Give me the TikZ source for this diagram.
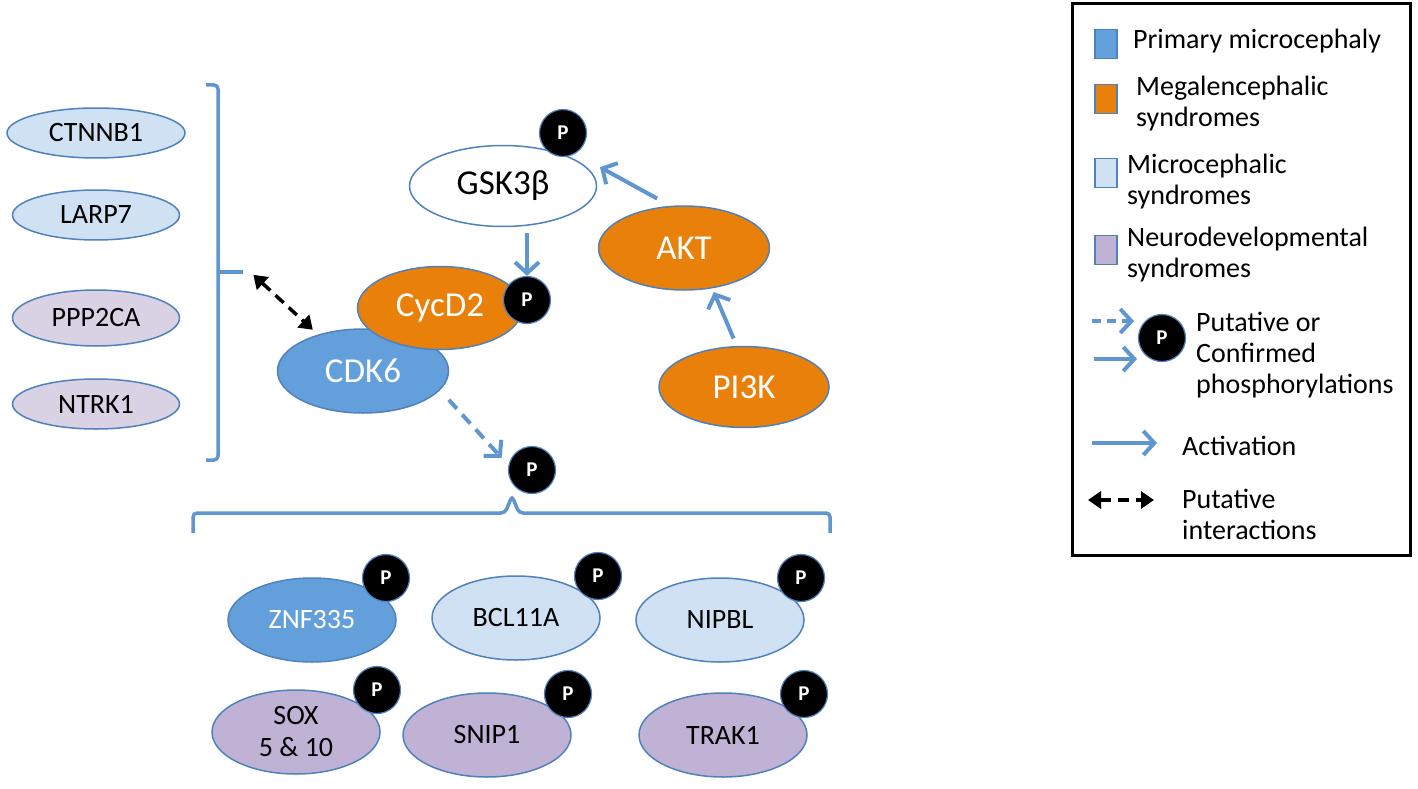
\documentclass[tikz,border=0pt]{standalone}
\usepackage{fontspec}
\setmainfont{Carlito}
\usetikzlibrary{arrows.meta,shapes.geometric}
\definecolor{edgeblue}{RGB}{79,129,189}
\definecolor{arrblue}{RGB}{95,150,208}
\definecolor{primblue}{RGB}{99,160,219}
\definecolor{megaorange}{RGB}{232,128,10}
\definecolor{microblue}{RGB}{207,225,243}
\definecolor{neuropurple}{RGB}{192,178,212}
\definecolor{neurolight}{RGB}{217,209,228}
\tikzset{
  prot/.style={ellipse,draw=edgeblue,line width=1.5pt,inner sep=0pt,minimum width=168pt,minimum height=84pt,font=\fontsize{28}{32}\selectfont},
  bigprot/.style={prot,font=\fontsize{35}{40}\selectfont},
  phos/.style={circle,fill=black,draw=edgeblue,line width=1.2pt,minimum size=47pt,inner sep=0pt,text=white,font=\fontsize{21}{21}\selectfont\bfseries},
  act/.style={draw=arrblue,line width=4pt,-{Straight Barb[length=11pt,width=24pt]}},
  dashact/.style={act,dash pattern=on 12pt off 8pt},
  interact/.style={line width=3.5pt,dash pattern=on 11pt off 7pt,{Triangle[length=13pt,width=17pt]}-{Triangle[length=13pt,width=17pt]}},
  bracket/.style={draw=arrblue,line width=3.5pt},
  legsq/.style={draw=edgeblue,line width=1.5pt,minimum width=22pt,minimum height=29pt,inner sep=0pt},
  legtext/.style={anchor=west,inner sep=0pt,align=left,font=\fontsize{28}{31}\selectfont}
}
\begin{document}
\begin{tikzpicture}[x=1pt,y=-1pt]
\useasboundingbox (0,0) rectangle (1418,789);

\node[prot,fill=microblue,minimum width=178pt,minimum height=50pt] (ctnnb) at (96,133) {CTNNB1};
\node[prot,fill=microblue,minimum width=167pt,minimum height=50pt] (larp) at (96,215) {LARP7};
\node[prot,fill=neurolight,minimum width=167pt,minimum height=56pt] (ppp) at (96,318) {PPP2CA};
\node[prot,fill=neurolight,minimum width=167pt,minimum height=50pt] (ntrk) at (96,404) {NTRK1};
\draw[bracket,rounded corners=4pt] (206,85) -- (218,85) -- (218,272) -- (218,460) -- (206,460);
\draw[bracket] (218,272) -- (243,272);
\coordinate (brk) at (246,268);

\node[bigprot,fill=white,minimum width=187pt,minimum height=81pt] (gsk) at (503,186) {GSK3β};
\node[phos] (pgsk) at (563,133) {P};
\node[bigprot,fill=primblue,text=white,minimum width=171pt] (cdk) at (363,371) {CDK6};
\node[bigprot,fill=megaorange,text=white,minimum width=165pt,minimum height=83pt] (cycd) at (440,308) {CycD2};
\node[phos] (pcyc) at (527,300) {P};
\node[bigprot,fill=megaorange,text=white,minimum width=171pt] (akt) at (684,248) {AKT};
\node[bigprot,fill=megaorange,text=white,minimum width=170pt,minimum height=81pt] (pik) at (744,387) {PI3K};
\node[phos] (pcdk) at (532,470) {P};

\draw[act,shorten <=6pt] (gsk.south -| pcyc) -- (pcyc);
\draw[act,shorten <=15pt,shorten >=28pt] (akt.108) -- (pgsk.-59);
\draw[act,shorten <=8pt,shorten >=4pt] (pik.100) -- (akt.-55);
\draw[dashact,shorten <=13pt,shorten >=10pt] (cdk.-14) -- (pcdk.169);
\draw[interact,shorten <=10pt,shorten >=7pt] (brk) -- (cdk.141);

\draw[bracket,rounded corners=4pt] (193,533) -- (193,513) -- (505,513) -- (512,496) -- (519,513) -- (830,513) -- (830,533);

\node[prot,fill=primblue,text=white] (znf) at (312,620) {ZNF335};
\node[phos] (pznf) at (386,578) {P};
\node[prot,fill=microblue] (bcl) at (516,618) {BCL11A};
\node[phos] (pbcl) at (598,576) {P};
\node[prot,fill=microblue] (nipbl) at (720,620) {NIPBL};
\node[phos] (pnip) at (801,578) {P};
\node[prot,fill=neuropurple,align=center] (sox) at (296,732) {SOX\\5 \& 10};
\node[phos] (psox) at (377,690) {P};
\node[prot,fill=neuropurple] (snip) at (487,735) {SNIP1};
\node[phos] (psnip) at (568,694) {P};
\node[prot,fill=neuropurple] (trak) at (723,735) {TRAK1};
\node[phos] (ptrak) at (804,694) {P};

\draw[line width=3pt] (1072,4) rectangle (1410,555);
\node[legsq,fill=primblue] (lsq1) at (1106,44) {};
\node[legsq,fill=megaorange] (lsq2) at (1106,99) {};
\node[legsq,fill=microblue] (lsq3) at (1106,173) {};
\node[legsq,fill=neuropurple] (lsq4) at (1106,250) {};
\node[legtext] (lt1) at (1133,41) {Primary microcephaly};
\node[legtext] (lt2) at (1136,104) {Megalencephalic\\syndromes};
\node[legtext] (lt3) at (1127,182) {Microcephalic\\syndromes};
\node[legtext] (lt4) at (1127,255) {Neurodevelopmental\\syndromes};
\node[phos] (lp) at (1162,338) {P};
\draw[dashact,dash pattern=on 9pt off 6pt] (1092,321) -- (1134,321);
\draw[act] (1094,359) -- (1137,359);
\node[legtext] (lt5) at (1196,355) {Putative or\\Confirmed\\phosphorylations};
\draw[act] (1092,443) -- (1157,443);
\node[legtext] (lt6) at (1182,446) {Activation};
\draw[interact] (1088,500) -- (1154,500);
\node[legtext] (lt7) at (1182,514) {Putative\\interactions};
\end{tikzpicture}
\end{document}
